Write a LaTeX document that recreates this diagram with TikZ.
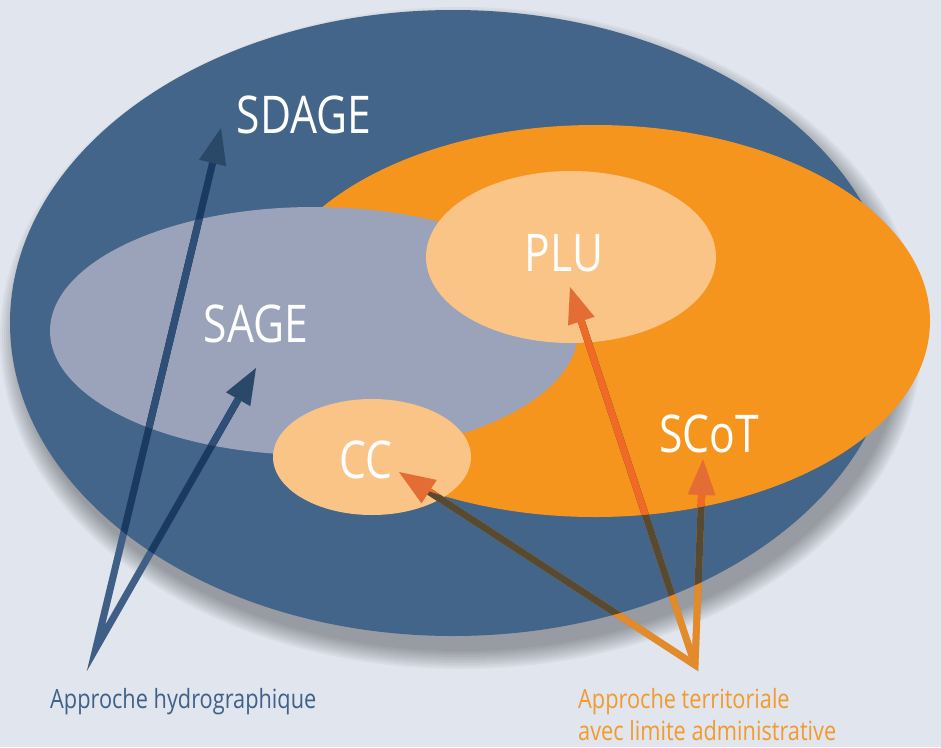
\documentclass[tikz,border=0pt]{standalone}
\usepackage{fontspec}
\setmainfont{Open Sans}[FakeStretch=0.82]
\usetikzlibrary{shapes.geometric,calc}
\definecolor{bg}{HTML}{E0E5EE}
\definecolor{dblue}{HTML}{436589}
\definecolor{orng}{HTML}{F6951E}
\definecolor{sagec}{HTML}{9AA3BA}
\definecolor{lorng}{HTML}{FAC487}
\definecolor{arrBbg}{HTML}{3F5F86}
\definecolor{arrBdk}{HTML}{1B3A62}
\definecolor{arrBsg}{HTML}{2F4F77}
\definecolor{headB}{HTML}{2A4868}
\definecolor{arrObg}{HTML}{E38A2A}
\definecolor{arrOdk}{HTML}{574A33}
\definecolor{arrOor}{HTML}{F06A25}
\definecolor{headO}{HTML}{E36D35}
\definecolor{lblB}{HTML}{3F6189}
\definecolor{lblO}{HTML}{F39A2D}
\newcommand\bluelines[1]{\draw[shaft,draw=#1] (bSDAGE) -- (hydro) -- (bSAGE);}
\newcommand\orangelines[1]{\draw[shaft,draw=#1] (bCC) -- (terr) -- (bSCOT); \draw[shaft,draw=#1] (terr) -- (bPLU);}
\newcommand\arrhead[3]{\fill[#3] (#1) -- ($(#1)!38.6pt!21.25:(#2)$) -- ($(#1)!38.6pt!-21.25:(#2)$) -- cycle;}
\begin{document}
\begin{tikzpicture}[x=1pt,y=-1pt,
  region/.style={ellipse, inner sep=0pt, outer sep=0pt, draw=none},
  title/.style={text=white, font=\fontsize{52}{52}\selectfont, anchor=base, inner sep=0pt},
  caption/.style={font=\fontsize{26.5}{32}\selectfont, anchor=base west, inner sep=0pt, align=left},
  shaft/.style={line width=7pt, line join=miter}]
\fill[bg] (0,0) rectangle (941,747);
\useasboundingbox (0,0) rectangle (941,747);
% soft shadow
\foreach \i in {0,...,9}
  \fill[black, opacity=0.035] (461,338) ellipse [x radius={443+2*\i}, y radius={313+2*\i}];
% regions
\node[region, fill=dblue, minimum width=886pt, minimum height=626pt] (sdage) at (453,323) {};
\node[region, fill=orng, minimum width=670pt, minimum height=392pt] (scot) at (595,321) {};
\node[region, fill=sagec, minimum width=528pt, minimum height=248pt] (sage) at (314,331) {};
\node[region, fill=lorng, minimum width=290pt, minimum height=172pt] (plu) at (571,257) {};
\node[region, fill=lorng, minimum width=198pt, minimum height=116pt] (cc) at (372,457) {};
% arrow coordinates
\coordinate (hydro) at (96,648);
\coordinate (terr) at (695,665);
\coordinate (tipSDAGE) at (221,128);
\coordinate (tipSAGE) at (256,368);
\coordinate (tipPLU) at (570,287);
\coordinate (tipCC) at (399,472);
\coordinate (tipSCOT) at (703,459);
\coordinate (bSDAGE) at ($(tipSDAGE)!30pt!(hydro)$);
\coordinate (bSAGE) at ($(tipSAGE)!30pt!(hydro)$);
\coordinate (bPLU) at ($(tipPLU)!30pt!(terr)$);
\coordinate (bCC) at ($(tipCC)!30pt!(terr)$);
\coordinate (bSCOT) at ($(tipSCOT)!30pt!(terr)$);
% faint arrow shadows
\begin{scope}[opacity=0.12, shift={(6,8)}]
  \bluelines{black}
  \orangelines{black}
\end{scope}
% shafts, region by region
\bluelines{arrBbg}
\orangelines{arrObg}
\begin{scope}
  \clip (453,323) ellipse [x radius=443, y radius=313];
  \bluelines{arrBdk}
  \orangelines{arrOdk}
\end{scope}
\begin{scope}
  \clip (595,321) ellipse [x radius=335, y radius=196];
  \orangelines{arrOor}
\end{scope}
\begin{scope}
  \clip (314,331) ellipse [x radius=264, y radius=124];
  \bluelines{arrBsg}
\end{scope}
% heads
\arrhead{tipSDAGE}{hydro}{headB}
\arrhead{tipSAGE}{hydro}{headB}
\arrhead{tipPLU}{terr}{headO}
\arrhead{tipCC}{terr}{headO}
\arrhead{tipSCOT}{terr}{headO}
% titles
\node[title] (lSDAGE) at (304,133) {SDAGE};
\node[title] (lSAGE) at (256,342) {SAGE};
\node[title] (lPLU) at (564,271) {PLU};
\node[title] (lCC) at (366,478) {CC};
\node[title] (lSCOT) at (709,452) {SCoT};
% captions
\node[caption, text=lblB] (capH) at (50,708) {Approche hydrographique};
\node[caption, text=lblO] (capT) at (578,740) {Approche territoriale\\avec limite administrative};
\end{tikzpicture}
\end{document}
